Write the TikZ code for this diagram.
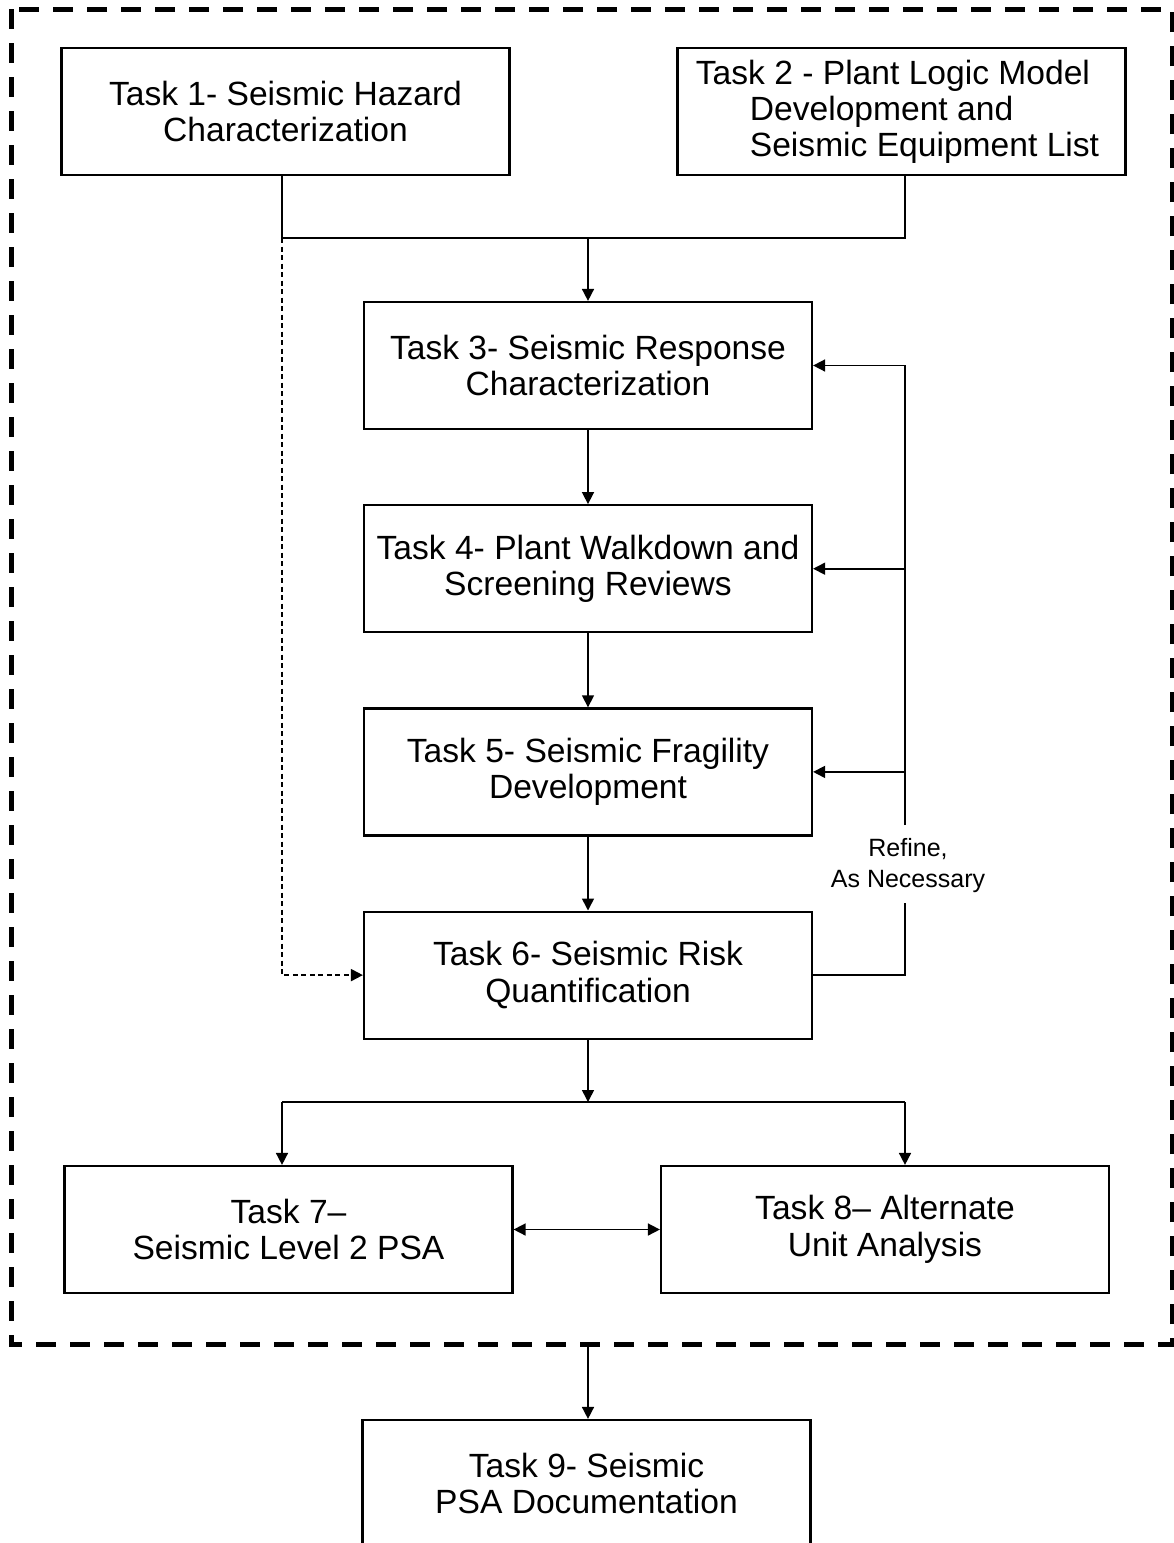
\documentclass[tikz,border=0pt]{standalone}
\usepackage{fontspec}
\setmainfont{Liberation Sans}
\usetikzlibrary{arrows.meta,positioning,calc}

\begin{document}
\begin{tikzpicture}[
    x=1pt, y=-1pt,
    node distance=74pt,
    task/.style={draw, line width=2.2pt, align=center, minimum width=448pt, minimum height=127pt,
                 inner sep=0pt, font=\fontsize{33.6}{36.5}\selectfont},
    note/.style={align=center, inner sep=0pt, font=\fontsize{25}{31}\selectfont},
    link/.style={line width=1.6pt},
    arr/.style={-{Triangle[length=12pt,width=12pt]}, line width=1.6pt},
    darr/.style={{Triangle[length=12pt,width=12pt]}-{Triangle[length=12pt,width=12pt]}, line width=1.6pt},
    outer/.style={line width=5pt, dash pattern=on 20pt off 14pt}
]
\useasboundingbox (0,0) rectangle (1174,1543);
\draw[outer] (11,9) rectangle (1172,1344);

% task boxes
\node[task] (t1) at (285.5,111.5) {Task 1- Seismic Hazard\\Characterization};
\node[task, align=left, font=\fontsize{33.6}{36}\selectfont] (t2) at (901.5,111.5)
    {\hspace*{-8pt}Task 2 - Plant Logic Model\\\hspace*{46pt}Development and\\\hspace*{46pt}Seismic Equipment List};
\node[task] (t3) at (588,365.5) {Task 3- Seismic Response\\Characterization};
\node[task, below=of t3] (t4) {Task 4- Plant Walkdown and\\Screening Reviews};
\node[task, below=of t4] (t5) {Task 5- Seismic Fragility\\Development};
\node[task, below=of t5] (t6) {Task 6- Seismic Risk\\Quantification};
\node[task] (t7) at (288.5,1229.5) {Task 7--\\Seismic Level 2 PSA};
\node[task] (t8) at (885,1229.5) {Task 8-- Alternate\\Unit Analysis};
\node[task] (t9) at (586.5,1483.5) {Task 9- Seismic\\PSA Documentation};
\node[note] (refine) at (908,866) {Refine,\\As Necessary};

% junction points
\coordinate (lj) at (282,238);
\coordinate (mj) at (588,238);
\coordinate (rj) at (905,238);
\coordinate (rb) at (905,903);
\coordinate (rt) at (905,825);
\coordinate (bl) at (282,1102);
\coordinate (bm) at (588,1102);
\coordinate (br) at (905,1102);
\coordinate (ob) at (588,1344);

% connectors
\draw[link] (t1.south -| lj) -- (lj) -- (rj) -- (t2.south -| rj);
\draw[arr] (mj) -- (t3.north -| mj);
\draw[arr] (t3) -- (t4);
\draw[arr] (t4) -- (t5);
\draw[arr] (t5) -- (t6);
\draw[arr, line width=2pt, dash pattern=on 5pt off 3.5pt] (lj) |- (t6.west);
\draw[link] (t6.east) -| (rb);
\draw[arr] (rt) |- (t3.east);
\draw[arr] (t4.east -| rt) -- (t4.east);
\draw[arr] (t5.east -| rt) -- (t5.east);
\draw[arr] (t6) -- (bm);
\draw[link] (bl) -- (br);
\draw[arr] (bl) -- (t7.north -| bl);
\draw[arr] (br) -- (t8.north -| br);
\draw[darr] (t7) -- (t8);
\draw[arr] (ob) -- (t9.north -| ob);
\end{tikzpicture}
\end{document}
